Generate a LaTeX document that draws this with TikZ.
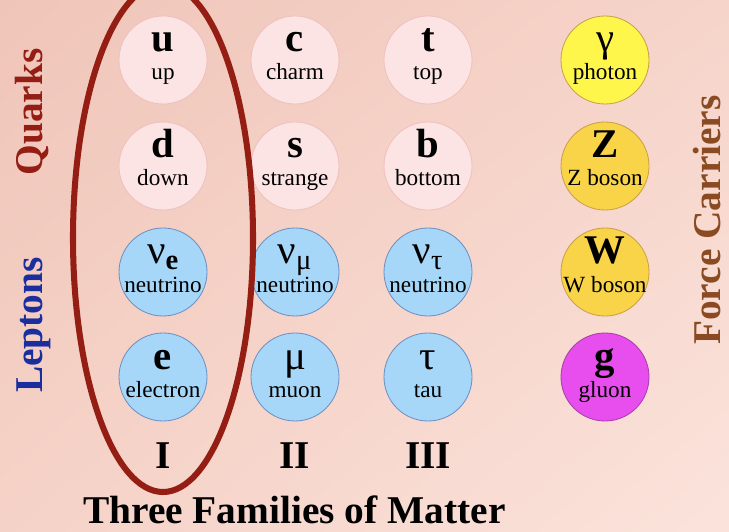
\documentclass[tikz,border=0pt]{standalone}
\usepackage{fontspec}
\setmainfont{Liberation Serif}
\usetikzlibrary{calc, shadings}
\definecolor{bgtl}{HTML}{F0C5B9}
\definecolor{bgtr}{HTML}{F6D4CA}
\definecolor{bgbl}{HTML}{F5D2C7}
\definecolor{bgbr}{HTML}{FBE3DB}
\definecolor{quarkpk}{HTML}{FCE4E4}
\definecolor{quarkln}{HTML}{EFC0BE}
\definecolor{leptbl}{HTML}{A6D7F8}
\definecolor{leptln}{HTML}{6F8FC4}
\definecolor{photyl}{HTML}{FFF64C}
\definecolor{bosongd}{HTML}{F9D448}
\definecolor{gluonmg}{HTML}{E84EEE}
\definecolor{bosonln}{HTML}{C9A04A}
\definecolor{gluonln}{HTML}{A63FA8}
\definecolor{famred}{HTML}{951E14}
\definecolor{leptxt}{HTML}{1B2E9E}
\definecolor{forcebr}{HTML}{8A4B22}
\tikzset{
  qdisc/.style = {circle, fill=quarkpk, draw=quarkln, line width=0.6pt,
                  minimum size=2.2cm, inner sep=0pt},
  ldisc/.style = {qdisc, fill=leptbl, draw=leptln},
  ydisc/.style = {qdisc, fill=photyl, draw=bosonln},
  bdisc/.style = {qdisc, fill=bosongd, draw=bosonln},
  gdisc/.style = {qdisc, fill=gluonmg, draw=gluonln},
  symb/.style  = {font=\fontsize{29}{29}\selectfont\bfseries, inner sep=0pt, anchor=base},
  plab/.style  = {font=\fontsize{16.5}{16.5}\selectfont, inner sep=0pt, anchor=base},
  sidelab/.style = {font=\fontsize{28}{28}\selectfont\bfseries, rotate=90, inner sep=0pt},
  famnum/.style  = {font=\fontsize{28}{28}\selectfont\bfseries, inner sep=0pt, anchor=base},
  famring/.style = {draw=famred, line width=4.3pt},
}
\newcommand{\gk}[1]{{\mdseries #1}}
\newcommand{\partdisc}[5]{%
  \node[#2] (#1) at (#3) {};
  \node[symb] (#1sym) at ($(#1)+(0,0.2)$) {#4};
  \node[plab] (#1lab) at ($(#1)+(0,-0.5)$) {#5};}

\begin{document}
\begin{tikzpicture}[x=1cm, y=1cm]
  \useasboundingbox (0,0) rectangle (18.225,13.275);
  \clip (0,0) rectangle (18.225,13.275);
  \shade[upper left=bgtl, upper right=bgtr, lower left=bgbl, lower right=bgbr]
    (0,0) rectangle (18.225,13.275);
  % quarks
  \partdisc{u}{qdisc}{4.075,11.775}{u}{up}
  \partdisc{c}{qdisc}{7.375,11.775}{c}{charm}
  \partdisc{t}{qdisc}{10.700,11.775}{t}{top}
  \partdisc{d}{qdisc}{4.075,9.125}{d}{down}
  \partdisc{s}{qdisc}{7.375,9.125}{s}{strange}
  \partdisc{b}{qdisc}{10.700,9.125}{b}{bottom}
  % leptons
  \partdisc{nue}{ldisc}{4.075,6.475}{\gk{ν}\textsubscript{e}}{neutrino}
  \partdisc{numu}{ldisc}{7.375,6.475}{\gk{ν\textsubscript{μ}}}{neutrino}
  \partdisc{nutau}{ldisc}{10.700,6.475}{\gk{ν\textsubscript{τ}}}{neutrino}
  \partdisc{e}{ldisc}{4.075,3.850}{e}{electron}
  \partdisc{mu}{ldisc}{7.375,3.850}{\gk{μ}}{muon}
  \partdisc{tau}{ldisc}{10.700,3.850}{\gk{τ}}{tau}
  % force carriers
  \partdisc{gam}{ydisc}{15.125,11.775}{\gk{γ}}{photon}
  \partdisc{Z}{bdisc}{15.125,9.125}{Z}{Z boson}
  \partdisc{W}{bdisc}{15.125,6.475}{W}{W boson}
  \partdisc{g}{gdisc}{15.125,3.850}{g}{gluon}
  % family I
  \draw[famring] (4.075,7.325) ellipse (2.25 and 6.35);
  \node[famnum] (famI) at (4.075,1.575) {I};
  \node[famnum] (famII) at (7.375,1.575) {II};
  \node[famnum] (famIII) at (10.700,1.575) {III};
  \node[famnum] (famtitle) at (7.36,0.2) {Three Families of Matter};
  \node[sidelab, text=famred] (quarks) at (0.80,10.475) {Quarks};
  \node[sidelab, text=leptxt] (leptons) at (0.85,5.150) {Leptons};
  \node[sidelab, text=forcebr] (force) at (17.675,7.775) {Force Carriers};
\end{tikzpicture}
\end{document}
